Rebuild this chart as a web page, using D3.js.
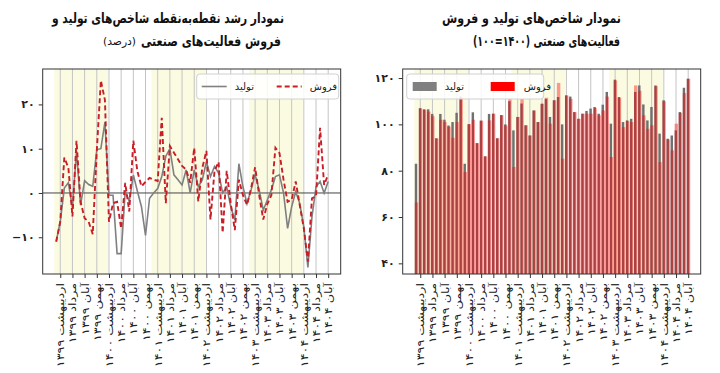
<!DOCTYPE html>
<html>
<head>
<meta charset="utf-8">
<script src="https://cdn.jsdelivr.net/npm/d3@7"></script>
<style>
  body { margin: 0; background: #fff; }
  text { font-family: "DejaVu Sans", sans-serif; }
</style>
</head>
<body>
<svg id="chart" width="720" height="373"></svg>
<script>
'use strict';

// months of the Persian calendar and the years shown
const monthNames = ['فروردین', 'اردیبهشت', 'خرداد', 'تیر', 'مرداد', 'شهریور',
  'مهر', 'آبان', 'آذر', 'دی', 'بهمن', 'اسفند'];
const yearNames = ['۱۳۹۹', '۱۴۰۰', '۱۴۰۱', '۱۴۰۲', '۱۴۰۳', '۱۴۰۴'];
const tickMonths = ['اردیبهشت', 'مرداد', 'آبان', 'بهمن'];
const shadedYears = ['۱۳۹۹', '۱۴۰۱', '۱۴۰۳'];

// point to point growth (percent), farvardin 1399 .. aban 1404
const prodGrowth = [-11, -6.5, 1.1, 2.3, -3.4, 9.5, -2.7, 2.8, 1.9, 1.5, 9.8, 10, 16,
  -0.5, -0.5, -13.7, -13.7, 0.4, -1.9, 4.1, 0.4, -3.1, -9.6, -1.2,
  0, 1, 3.7, 8.3, 10, 4.1, 3, 1.8, 5.2, 0, 5.2, 1.4,
  3, 7.1, 3.7, 6, 4.5, 0, 1.4, -3.1, -6.1, 6.6, 1.4, -2.4,
  0.7, 4.1, 0.7, -3.9, -1.6, 0.7, 3.7, 4.1, 0, -8, -3.1, 0.3,
  -2.4, -7.7, -16.8, -5.4, 1.4, 2.6, 0, 2.6];
const salesGrowth = [-11, -6.5, 8, 5.7, -5.3, 11.8, -2, -5.7, -6.5, -9.3, 9.5, 25.4, 21,
  -6.5, -2.3, -2, -8, 2.3, -4.2, 11.8, 4.9, 1.5, 2.5, 3.4,
  3, 2.7, 17, -2.3, 10.6, 9.1, 7.6, 6.1, 5.3, 2.3, 10.2, -1.9,
  5.7, 9.5, -6, 5, 7, -9, 5, -2.4, -8.4, 3, -0.5, -2.7,
  1, 5.8, -0.5, -6, -2.5, -0.5, 10.2, 9, 3, -2, -1.5, 2.6,
  -2.8, -8, -15.5, -1.2, -0.8, 14.7, 1.8, 4.2];

// indices (1400 = 100)
const prodIndex = [83, 107, 106.5, 106.5, 104.5, 94, 104.5, 102, 99.5, 101, 105, 112, 83,
  100.1, 105.2, 91.9, 101.6, 86.2, 104.5, 104.6, 94, 104, 100, 110, 97.4,
  103.2, 109, 99.6, 95.2, 106, 101, 108.9, 111, 103.2, 110.4, 111.8, 100,
  112.5, 112, 105.3, 102.4, 104.6, 105.8, 106.8, 107.5, 104.6, 108.5, 114, 100.3,
  119.3, 111.8, 101, 101.7, 102.4, 114, 116.8, 108.6, 101.7, 107.5, 116.8, 96,
  110.4, 93.8, 95.2, 97.4, 105.3, 115.8, 119.7];
const salesIndex = [66.3, 106.9, 106.3, 105.5, 103.5, 93.9, 102, 101, 99, 94.2, 101, 111.6, 79.4,
  100.1, 102, 91.9, 101.6, 86.2, 101.7, 104.6, 94, 104, 99.5, 111, 81.6,
  103.2, 111, 99.6, 95.2, 106, 101, 108.9, 111.5, 100.3, 110.4, 117.9, 85.2,
  112.5, 111, 105.3, 102.4, 104.6, 104.6, 104.6, 107, 103.9, 106, 112, 85.9,
  119, 111.5, 98.8, 101.5, 101, 116.8, 114.5, 103.9, 98.1, 99.6, 116.5, 83.7,
  110, 93.5, 88.8, 100.3, 105, 113.5, 119.7];

const growthTicks = [-10, 0, 10, 20];
const indexTicks = [40, 60, 80, 100, 120];

const months = [];
yearNames.forEach((yr) => monthNames.forEach((mn) => months.push(mn + ' ' + yr)));
months.length = prodGrowth.length;
const tickCats = months.filter((m) => tickMonths.includes(m.split(' ')[0]));

const faDigits = (v) => String(v).replace('-', '−').replace(/\d/g, (c) => '۰۱۲۳۴۵۶۷۸۹'[c]);

const W = 298;
const H = 205;
const svg = d3.select('#chart');

/**
 * frame, shading, grid and axes of one panel
 */
function panel(left, yDomain, yTicks) {
  const g = svg.append('g').attr('transform', 'translate(' + left + ',69)');
  const x = d3.scalePoint().domain(months).range([13.5, 285.5]);
  const y = d3.scaleLinear().domain(yDomain).range([H, 0]);
  const step = x.step();

  g.append('rect').attr('width', W).attr('height', H).attr('fill', '#fff');

  shadedYears.forEach((yr) => {
    const i0 = months.indexOf(monthNames[0] + ' ' + yr);
    const i1 = Math.min(i0 + 12, months.length - 1);
    const x0 = x(months[i0]) - 0.5 * step;
    const x1 = x(months[i1]) + 0.75 * step;
    g.append('rect')
        .attr('x', x0).attr('y', 0)
        .attr('width', x1 - x0).attr('height', H)
        .attr('fill', '#fbfbe2');
  });

  g.selectAll('line.grid')
      .data(tickCats)
      .enter().append('line')
      .attr('class', 'grid')
      .attr('x1', (d) => x(d)).attr('x2', (d) => x(d))
      .attr('y1', 0).attr('y2', H)
      .attr('stroke', '#c4c4c4')
      .attr('stroke-width', 1);

  const clipId = 'clip' + Math.round(left);
  g.append('clipPath').attr('id', clipId)
      .append('rect').attr('width', W).attr('height', H);
  const plot = g.append('g').attr('clip-path', 'url(#' + clipId + ')');

  const xAxis = g.append('g')
      .attr('transform', 'translate(0,' + H + ')')
      .call(d3.axisBottom(x).tickValues(tickCats).tickSize(4).tickSizeOuter(0));
  xAxis.select('.domain').remove();
  xAxis.selectAll('line').attr('stroke', '#333');
  xAxis.selectAll('text')
      .attr('transform', 'rotate(-90) scale(1.28,1)')
      .attr('x', -7).attr('y', 0).attr('dy', '0.35em')
      .style('text-anchor', 'end')
      .style('font-size', '10px')
      .attr('fill', '#222');

  const yAxis = g.append('g')
      .call(d3.axisLeft(y).tickValues(yTicks).tickFormat(faDigits).tickSize(4).tickSizeOuter(0));
  yAxis.select('.domain').remove();
  yAxis.selectAll('line').attr('stroke', '#333');
  yAxis.selectAll('text')
      .attr('x', -8)
      .style('font-size', '11px')
      .style('font-weight', 'bold')
      .attr('fill', '#222');

  return {g: g, plot: plot, x: x, y: y, step: step};
}

/**
 * legend box with two entries
 */
function legend(g, bx, bw, items) {
  const lg = g.append('g').attr('transform', 'translate(' + bx + ',5)');
  lg.append('rect')
      .attr('width', bw).attr('height', 25).attr('rx', 3)
      .attr('fill', '#fff').attr('fill-opacity', 0.85)
      .attr('stroke', '#d0d0d0');
  items.forEach((it) => {
    if (it.kind === 'line') {
      lg.append('line')
          .attr('x1', it.x).attr('x2', it.x + 25)
          .attr('y1', 12.5).attr('y2', 12.5)
          .attr('stroke', it.color).attr('stroke-width', it.width)
          .attr('stroke-dasharray', it.dash || null);
    } else {
      lg.append('rect')
          .attr('x', it.x).attr('y', 8)
          .attr('width', 24).attr('height', 9)
          .attr('fill', it.color);
    }
    lg.append('text')
        .attr('x', it.x + it.gap).attr('y', 16)
        .style('font-size', '10px')
        .attr('fill', '#222')
        .text(it.label);
  });
}

/**
 * one right aligned title line, squeezed to the width of the original
 */
function titleLine(xRight, y, str, len, size, weight) {
  svg.append('text')
      .attr('x', xRight).attr('y', y)
      .attr('direction', 'rtl')
      .style('text-anchor', 'start')
      .style('font-size', size + 'px').style('font-weight', weight)
      .attr('textLength', len).attr('lengthAdjust', 'spacingAndGlyphs')
      .attr('fill', '#111')
      .text(str);
}

// left panel: growth lines
const L = panel(42.7, [-18.3, 28], growthTicks);
L.plot.append('line')
    .attr('x1', 0).attr('x2', W)
    .attr('y1', L.y(0)).attr('y2', L.y(0))
    .attr('stroke', '#444').attr('stroke-width', 1);
const line = d3.line().x((d, i) => L.x(months[i])).y((d) => L.y(d));
L.plot.append('path')
    .datum(prodGrowth)
    .attr('d', line)
    .attr('fill', 'none')
    .attr('stroke', '#808080')
    .attr('stroke-width', 1.6);
L.plot.append('path')
    .datum(salesGrowth)
    .attr('d', line)
    .attr('fill', 'none')
    .attr('stroke', '#c81e26')
    .attr('stroke-width', 1.9)
    .attr('stroke-dasharray', '5,3');
L.g.append('rect').attr('width', W).attr('height', H)
    .attr('fill', 'none').attr('stroke', '#333');
legend(L.g, 154, 142, [
  {kind: 'line', x: 5, gap: 33, color: '#808080', width: 1.6, label: 'تولید'},
  {kind: 'line', x: 80, gap: 33, color: '#c81e26', width: 1.9, dash: '5,3', label: 'فروش'}
]);

// right panel: index bars, sales drawn translucent over production
const R = panel(402.7, [35.4, 123.9], indexTicks);
const barX = (d, i) => R.x(months[i]) - 0.35 * R.step;
R.plot.selectAll('rect.prod')
    .data(prodIndex)
    .enter().append('rect')
    .attr('class', 'prod')
    .attr('x', barX)
    .attr('width', 0.6 * R.step)
    .attr('y', (d) => R.y(d))
    .attr('height', (d) => H - R.y(d))
    .attr('fill', '#707070');
R.plot.selectAll('rect.sales')
    .data(salesIndex)
    .enter().append('rect')
    .attr('class', 'sales')
    .attr('x', barX)
    .attr('width', 0.85 * R.step)
    .attr('y', (d) => R.y(d))
    .attr('height', (d) => H - R.y(d))
    .attr('fill', '#ff0000')
    .attr('fill-opacity', 0.4);
R.g.append('rect').attr('width', W).attr('height', H)
    .attr('fill', 'none').attr('stroke', '#333');
legend(R.g, 4, 137, [
  {kind: 'patch', x: 6, gap: 32, color: '#808080', label: 'تولید'},
  {kind: 'patch', x: 84, gap: 33, color: '#ff0000', label: 'فروش'}
]);

// titles
titleLine(284, 23, 'نمودار رشد نقطه‌به‌نقطه شاخص‌های تولید و', 232, 14, 'bold');
titleLine(281, 46, 'فروش فعالیت‌های صنعتی', 140, 14, 'bold');
titleLine(136, 45, '(درصد)', 33, 11, 'normal');
titleLine(621, 23, 'نمودار شاخص‌های تولید و فروش', 179, 14, 'bold');
titleLine(620, 46, 'فعالیت‌های صنعتی (۱۴۰۰=۱۰۰)', 147, 14, 'bold');
</script>
</body>
</html>
